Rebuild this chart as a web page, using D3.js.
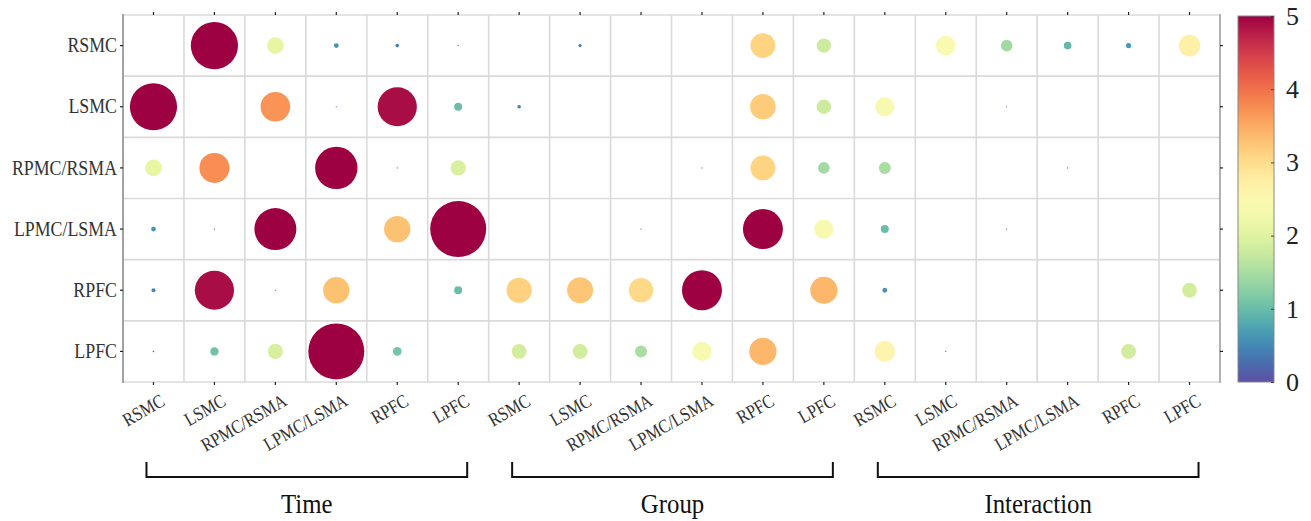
<!DOCTYPE html>
<html>
<head>
<meta charset="utf-8">
<script src="https://cdn.jsdelivr.net/npm/d3@7/dist/d3.min.js"></script>
<style>
  html, body { margin: 0; padding: 0; background: #fff; }
  svg { display: block; }
  text { font-family: "Liberation Serif", "Times New Roman", serif; }
</style>
</head>
<body>
<svg id="chart" width="1311" height="521"></svg>
<script>
// Regions (rows and, within each effect block, columns)
const regions = ["RSMC", "LSMC", "RPMC/RSMA", "LPMC/LSMA", "RPFC", "LPFC"];
// Effect blocks along the x axis
const effects = ["Time", "Group", "Interaction"];

// Values per effect block: one row per region (rows follow `regions`), null = no link
const timeValues = [
  [null, 5.9, 2.1, 0.6, 0.45, 0.1],
  [5.9, null, 3.7, 0.1, 4.9, 1.0],
  [2.1, 3.75, null, 5.3, 0.1, 1.9],
  [0.6, 0.15, 5.25, null, 3.3, 7.0],
  [0.5, 4.9, 0.05, 3.3, null, 1.0],
  [0.2, 1.05, 1.9, 7.0, 1.1, null]
];
const groupValues = [
  [null, 0.4, null, null, 3.1, 1.8],
  [0.45, null, null, null, 3.2, 1.8],
  [null, null, null, 0.08, 3.1, 1.45],
  [null, null, 0.08, null, 5.0, 2.4],
  [3.15, 3.25, 3.05, 5.0, null, 3.4],
  [1.85, 1.85, 1.5, 2.4, 3.4, null]
];
const interactionValues = [
  [null, 2.45, 1.45, 0.95, 0.65, 2.7],
  [2.4, null, 0.05, null, null, null],
  [1.5, null, null, 0.08, null, null],
  [1.0, null, 0.05, null, null, null],
  [0.6, null, null, null, null, 1.85],
  [2.6, 0.05, null, null, 1.85, null]
];
const colorbarTicks = [0, 1, 2, 3, 4, 5];

const blocks = [timeValues, groupValues, interactionValues];

// Flatten into cells: column index runs over block * 6 + region
const cells = [];
blocks.forEach((block, b) => {
  block.forEach((row, r) => {
    row.forEach((v, c) => {
      if (v !== null) cells.push({ row: r, col: b * regions.length + c, value: v });
    });
  });
});

const svg = d3.select("#chart");
const plot = { left: 123, right: 1220, top: 15, bottom: 382 };
const nCols = effects.length * regions.length;

const x = d3.scaleBand().domain(d3.range(nCols)).range([plot.left, plot.right]);
const y = d3.scaleBand().domain(d3.range(regions.length)).range([plot.top, plot.bottom]);
const r = d3.scaleLinear().domain([0, 7]).range([0, 28]);
const color = d3.scaleSequential(t => d3.interpolateSpectral(1 - t)).domain([0, 5]).clamp(true);

// Grid lines at cell boundaries
const grid = svg.append("g").attr("stroke", "#dadada").attr("stroke-width", 1.6);
d3.range(nCols + 1).forEach(i => {
  const xx = plot.left + i * x.bandwidth();
  grid.append("line").attr("x1", xx).attr("x2", xx).attr("y1", plot.top).attr("y2", plot.bottom);
});
d3.range(regions.length + 1).forEach(i => {
  const yy = plot.top + i * y.bandwidth();
  grid.append("line").attr("x1", plot.left).attr("x2", plot.right).attr("y1", yy).attr("y2", yy);
});

// Side frame lines
svg.append("line").attr("x1", plot.left).attr("x2", plot.left)
  .attr("y1", plot.top - 1).attr("y2", plot.bottom + 1)
  .attr("stroke", "#808080").attr("stroke-width", 1.3);
svg.append("line").attr("x1", plot.right).attr("x2", plot.right)
  .attr("y1", plot.top - 1).attr("y2", plot.bottom + 1)
  .attr("stroke", "#9a9a9a").attr("stroke-width", 1.3);

// Bubbles
svg.append("g").selectAll("circle")
  .data(cells)
  .join("circle")
  .attr("cx", d => x(d.col) + x.bandwidth() / 2)
  .attr("cy", d => y(d.row) + y.bandwidth() / 2)
  .attr("r", d => Math.max(r(d.value), 0.6))
  .attr("fill", d => color(d.value));

// Axes
function styleTicks(g) {
  g.select(".domain").remove();
  g.selectAll(".tick line").attr("stroke", "#222").attr("stroke-width", 1.2);
}

// Axis text is set in a slightly narrow serif
const squeeze = 0.85;

const xBottom = svg.append("g")
  .attr("transform", `translate(0,${plot.bottom})`)
  .call(d3.axisBottom(x).tickSize(3).tickFormat(i => regions[i % regions.length]))
  .call(styleTicks);
xBottom.selectAll(".tick text")
  .attr("x", 0).attr("y", 0).attr("dy", "0.7em")
  .attr("text-anchor", "end")
  .attr("transform", `translate(6,11) rotate(-30) scale(${squeeze},1)`)
  .attr("font-size", 19)
  .attr("fill", "#333");

svg.append("g")
  .attr("transform", `translate(0,${plot.top})`)
  .call(d3.axisTop(x).tickSize(3).tickFormat(""))
  .call(styleTicks);

svg.append("g")
  .attr("transform", `translate(${plot.left},0)`)
  .call(d3.axisLeft(y).tickSize(3).tickPadding(3).tickFormat(i => regions[i]))
  .call(styleTicks)
  .selectAll(".tick text")
  .attr("x", -6 / squeeze)
  .attr("transform", `scale(${squeeze},1)`)
  .attr("font-size", 21)
  .attr("fill", "#333");

svg.append("g")
  .attr("transform", `translate(${plot.right},0)`)
  .call(d3.axisRight(y).tickSize(3).tickFormat(""))
  .call(styleTicks);

// Effect brackets
const bracketTop = 462, bracketBottom = 477;
effects.forEach((name, b) => {
  const first = b * regions.length;
  const last = first + regions.length - 1;
  const x0 = x(first) + x.bandwidth() / 2 - 7;
  const x1 = x(last) + x.bandwidth() / 2 + 9;
  svg.append("path")
    .attr("d", `M${x0},${bracketTop}V${bracketBottom}H${x1}V${bracketTop}`)
    .attr("fill", "none")
    .attr("stroke", "#111")
    .attr("stroke-width", 2);
  svg.append("text")
    .attr("transform", `translate(${(x0 + x1) / 2},513) scale(0.92,1)`)
    .attr("text-anchor", "middle")
    .attr("font-size", 27)
    .attr("fill", "#111")
    .text(name);
});

// Colour bar
const cb = { x: 1238, w: 36, top: 16, bottom: 382 };
const cbScale = d3.scaleLinear().domain([0, 5]).range([cb.bottom, cb.top]);
const grad = svg.append("defs").append("linearGradient")
  .attr("id", "cbgrad").attr("x1", 0).attr("x2", 0).attr("y1", 1).attr("y2", 0);
d3.range(0, 1.0001, 0.05).forEach(t => {
  grad.append("stop").attr("offset", t).attr("stop-color", color(t * 5));
});
svg.append("rect")
  .attr("x", cb.x).attr("y", cb.top)
  .attr("width", cb.w).attr("height", cb.bottom - cb.top)
  .attr("fill", "url(#cbgrad)")
  .attr("stroke", "#888").attr("stroke-width", 1);

const cbAxis = svg.append("g")
  .attr("transform", `translate(${cb.x + cb.w},0)`)
  .call(d3.axisRight(cbScale).tickValues(colorbarTicks).tickSize(-3).tickPadding(12).tickFormat(d3.format("d")));
cbAxis.select(".domain").remove();
cbAxis.selectAll(".tick line").attr("stroke", "#444").attr("stroke-width", 1);
cbAxis.selectAll(".tick text").attr("font-size", 26).attr("fill", "#222");
</script>
</body>
</html>
